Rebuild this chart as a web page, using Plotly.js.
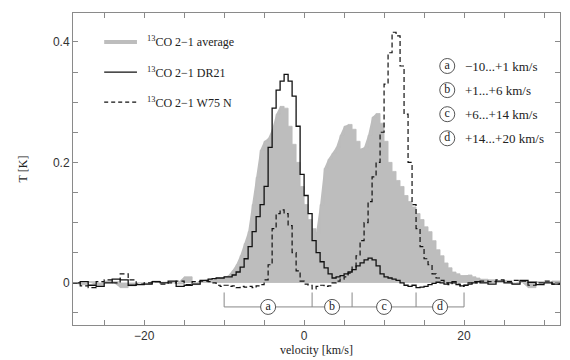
<!DOCTYPE html>
<html>
<head>
<meta charset="utf-8">
<script src="https://cdn.plot.ly/plotly-3.0.1.min.js"></script>
<style>html,body{margin:0;padding:0;background:#fff}#chart{width:570px;height:360px}</style>
</head>
<body>
<div id="chart"></div>
<script>
// velocity channels [km/s]
const VELOCITY = [
  -29,-28,-27,-26,-25,-24,-23,-22,-21,-20,-19,-18,-17,-16,-15,-14,-13,
  -12,-11.5,-11,-10.5,-10,-9.5,-9,-8.5,-8,-7.5,-7,-6.5,-6,-5.5,-5,-4.5,-4,-3.5,-3,-2.5,-2,-1.5,-1,-0.5,
  0,0.5,1,1.5,2,2.5,3,3.5,4,4.5,5,5.5,6,6.5,7,7.5,8,8.5,9,9.5,10,10.5,11,11.5,12,12.5,13,13.5,14,14.5,
  15,15.5,16,16.5,17,17.5,18,18.5,19,19.5,20,20.5,21,21.5,22,
  23,24,25,26,27,28,29,30,31,32
];
// 13CO 2-1 average [K]
const T_AVERAGE = [
  0.000,-0.003,0.002,-0.004,0.003,0.002,-0.008,-0.005,0.000,-0.002,0.003,0.001,0.002,-0.002,0.010,-0.003,0.004,
  0.006,0.004,0.008,0.007,0.010,0.012,0.020,0.030,0.045,0.065,0.085,0.130,0.175,0.220,0.235,0.240,0.255,0.280,0.293,0.290,0.260,0.230,0.200,0.160,
  0.130,0.105,0.090,0.083,0.130,0.190,0.205,0.215,0.225,0.245,0.260,0.263,0.255,0.235,0.222,0.225,0.245,0.275,0.281,0.265,0.235,0.200,0.185,0.170,0.160,0.145,0.135,0.126,0.115,0.105,
  0.093,0.085,0.070,0.055,0.045,0.033,0.025,0.018,0.015,0.012,0.012,0.013,0.010,0.008,0.006,
  0.005,0.002,0.004,-0.002,0.003,-0.008,0.002,0.001,0.003,0.000
];
// 13CO 2-1 DR21 [K]
const T_DR21 = [
  0.000,0.002,-0.004,-0.006,0.000,0.006,0.005,-0.004,-0.003,-0.002,0.002,0.000,0.003,-0.006,-0.004,-0.002,0.004,
  0.006,0.007,0.008,0.008,0.010,0.010,0.013,0.018,0.026,0.040,0.060,0.085,0.110,0.130,0.160,0.225,0.290,0.320,0.335,0.346,0.335,0.310,0.260,0.180,
  0.145,0.115,0.070,0.050,0.035,0.025,0.015,0.008,0.010,0.012,0.015,0.018,0.022,0.028,0.033,0.038,0.041,0.038,0.028,0.015,0.010,0.008,0.006,0.004,0.000,-0.004,-0.006,-0.004,-0.008,-0.007,
  -0.006,-0.003,-0.001,0.001,0.000,-0.002,0.000,0.002,-0.003,-0.005,-0.004,-0.002,0.000,0.002,0.000,
  -0.002,0.003,0.000,-0.002,0.004,0.001,-0.003,0.000,-0.002,0.000
];
// 13CO 2-1 W75 N [K]
const T_W75N = [
  0.000,-0.005,-0.008,0.002,0.005,0.000,0.015,0.005,-0.002,0.000,0.002,-0.002,0.000,0.003,-0.003,0.002,0.003,
  0.002,0.000,-0.004,-0.006,-0.004,-0.006,-0.005,-0.008,-0.006,-0.007,-0.006,-0.008,-0.005,-0.003,0.005,0.030,0.090,0.115,0.121,0.115,0.095,0.050,0.020,0.003,
  -0.002,-0.004,-0.010,-0.006,-0.004,-0.006,-0.005,0.000,0.003,0.006,0.010,0.016,0.026,0.045,0.070,0.100,0.135,0.176,0.200,0.250,0.330,0.382,0.416,0.410,0.360,0.280,0.200,0.130,0.090,0.060,
  0.040,0.030,0.015,0.008,0.004,0.000,-0.003,0.000,-0.002,-0.006,-0.004,0.000,0.002,0.000,0.003,
  0.002,0.005,0.002,0.004,0.003,-0.004,0.000,0.003,-0.002,0.000
];
// velocity intervals (edges) and their labels
const INTERVAL_EDGES = [-10, 1, 6, 14, 20];
const INTERVAL_LETTERS = ['a', 'b', 'c', 'd'];
const INTERVAL_TEXT = ['\u221210...+1 km/s', '+1...+6 km/s', '+6...+14 km/s', '+14...+20 km/s'];
const SERIES_NAMES = ['<sup>13</sup>CO 2\u22121 average', '<sup>13</sup>CO 2\u22121 DR21', '<sup>13</sup>CO 2\u22121 W75 N'];
const X_TICKS = [-20, 0, 20];
const Y_TICKS = [0, 0.2, 0.4];

const SERIF = 'Liberation Serif, Times New Roman, serif';
const SANS = 'Liberation Sans, Arial, sans-serif';
const GREY = '#bdbdbd';
const AXIS = '#8a8a8a';

// step outline of the averaged spectrum (each channel value held until the next channel)
const stepX = [], stepY = [];
VELOCITY.forEach((v, i) => {
  stepX.push(v); stepY.push(i > 0 ? T_AVERAGE[i - 1] : T_AVERAGE[i]);
  stepX.push(v); stepY.push(T_AVERAGE[i]);
});

// bracket geometry (layout levels)
const BR_Y = -0.04, BR_TOP = -0.016;
const brX = [], brY = [];
brX.push(INTERVAL_EDGES[0], INTERVAL_EDGES[INTERVAL_EDGES.length - 1], null);
brY.push(BR_Y, BR_Y, null);
INTERVAL_EDGES.forEach(e => { brX.push(e, e, null); brY.push(BR_Y, BR_TOP, null); });
const mids = INTERVAL_LETTERS.map((_, i) => (INTERVAL_EDGES[i] + INTERVAL_EDGES[i + 1]) / 2);

// right-hand key positions
const KEY_X = 17.9, KEY_TEXT_X = 19.9;
const KEY_Y = [0.36, 0.32, 0.28, 0.24];

const traces = [
  {x: VELOCITY, y: T_AVERAGE, type: 'scatter', mode: 'lines', line: {shape: 'linear', color: GREY, width: 0},
   fill: 'tozeroy', fillcolor: GREY, hoverinfo: 'skip'},
  {x: stepX, y: stepY, type: 'scatter', mode: 'lines', line: {shape: 'linear', color: GREY, width: 0.8, simplify: false},
   fill: 'tozeroy', fillcolor: GREY, hoverinfo: 'skip'},
  {x: VELOCITY, y: T_DR21, type: 'scatter', mode: 'lines', line: {shape: 'hv', color: '#111', width: 1.3}, hoverinfo: 'skip'},
  {x: VELOCITY, y: T_W75N, type: 'scatter', mode: 'lines', line: {shape: 'hv', color: '#111', width: 1.2, dash: '5px,3px'}, hoverinfo: 'skip'},
  {x: brX, y: brY, type: 'scatter', mode: 'lines', line: {color: '#888', width: 1}, hoverinfo: 'skip'},
  {x: mids, y: mids.map(() => BR_Y), type: 'scatter', mode: 'markers+text', text: INTERVAL_LETTERS,
   textposition: 'middle center', textfont: {family: SERIF, size: 12, color: '#222'},
   marker: {symbol: 'circle', size: 15, color: '#fff', line: {color: '#555', width: 1}}, hoverinfo: 'skip'},
  {x: KEY_Y.map(() => KEY_X), y: KEY_Y, type: 'scatter', mode: 'markers+text', text: INTERVAL_LETTERS,
   textposition: 'middle center', textfont: {family: SERIF, size: 12, color: '#222'},
   marker: {symbol: 'circle', size: 15, color: '#fff', line: {color: '#555', width: 1}}, hoverinfo: 'skip'}
];

const legY = [0.4, 0.35, 0.3];
const shapes = [
  {type: 'line', xref: 'x', yref: 'y', x0: -25, x1: -20.9, y0: legY[0], y1: legY[0], line: {color: GREY, width: 4}},
  {type: 'line', xref: 'x', yref: 'y', x0: -25, x1: -20.9, y0: legY[1], y1: legY[1], line: {color: '#111', width: 1.2}},
  {type: 'line', xref: 'x', yref: 'y', x0: -25, x1: -20.9, y0: legY[2], y1: legY[2], line: {color: '#111', width: 1.1, dash: '4px,3px'}}
];
const annotations = [];
SERIES_NAMES.forEach((n, i) => annotations.push({x: -19.9, y: legY[i], xref: 'x', yref: 'y', text: n, showarrow: false,
  xanchor: 'left', yanchor: 'middle', font: {family: SERIF, size: 12, color: '#222'}}));
INTERVAL_TEXT.forEach((t, i) => annotations.push({x: KEY_TEXT_X, y: KEY_Y[i], xref: 'x', yref: 'y', text: t, showarrow: false,
  xanchor: 'left', yanchor: 'middle', font: {family: SERIF, size: 13, color: '#222'}}));

const layout = {
  width: 570, height: 360,
  margin: {l: 73, r: 10, t: 13, b: 35},
  paper_bgcolor: '#fff', plot_bgcolor: '#fff',
  showlegend: false,
  xaxis: {range: [-28.9, 32], tickvals: X_TICKS, ticks: 'inside', ticklen: 5, tickcolor: AXIS,
    minor: {dtick: 5, tick0: 0, ticks: 'inside', ticklen: 5, tickcolor: AXIS, showgrid: false},
    showline: true, linecolor: AXIS, mirror: 'allticks', showgrid: false, zeroline: false,
    tickfont: {family: SANS, size: 12, color: '#333'},
    title: {text: 'velocity [km/s]', font: {family: SERIF, size: 12, color: '#222'}, standoff: 0}},
  yaxis: {range: [-0.07, 0.448], tickvals: Y_TICKS, ticktext: Y_TICKS.map(String), ticks: 'inside', ticklen: 5, tickcolor: AXIS,
    minor: {dtick: 0.05, tick0: 0, ticks: 'inside', ticklen: 5, tickcolor: AXIS, showgrid: false},
    showline: true, linecolor: AXIS, mirror: 'allticks', showgrid: false, zeroline: false,
    tickfont: {family: SANS, size: 12, color: '#333'},
    title: {text: 'T [K]', font: {family: SERIF, size: 12, color: '#222'}, standoff: 22}},
  shapes: shapes,
  annotations: annotations
};
Plotly.newPlot('chart', traces, layout, {staticPlot: true, displayModeBar: false});
</script>
</body>
</html>
